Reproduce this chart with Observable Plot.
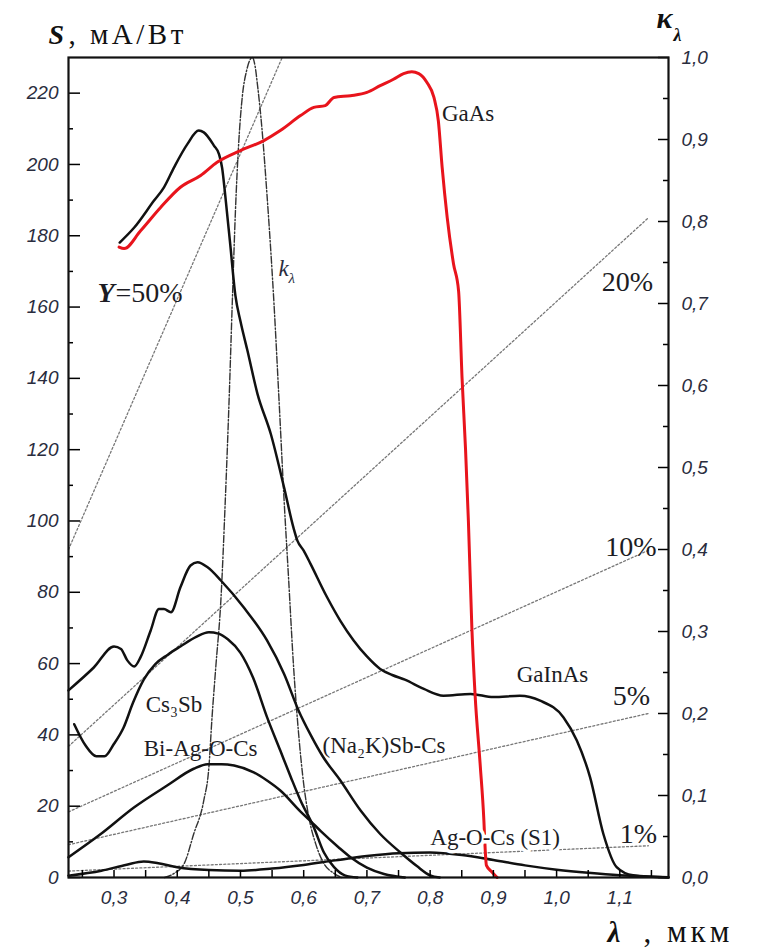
<!DOCTYPE html>
<html><head><meta charset="utf-8">
<script src="https://cdn.jsdelivr.net/npm/d3@7"></script>
<script src="https://cdn.jsdelivr.net/npm/@observablehq/plot@0.6"></script>
<style>body{margin:0;background:#fff}</style>
</head><body><div id="chart"></div>
<script>
// ---- axis ticks / labels ----
const lambdaMajor = [0.3, 0.4, 0.5, 0.6, 0.7, 0.8, 0.9, 1.0, 1.1];
const lambdaMinor = [0.25, 0.3, 0.35, 0.4, 0.45, 0.5, 0.55, 0.6, 0.65, 0.7, 0.75, 0.8, 0.85, 0.9, 0.95, 1.0, 1.05, 1.1, 1.15];
const sMajor = [0, 20, 40, 60, 80, 100, 120, 140, 160, 180, 200, 220];
const sMinor = [10, 30, 50, 70, 90, 110, 130, 150, 170, 190, 210];
const kMajor = [0, 0.1, 0.2, 0.3, 0.4, 0.5, 0.6, 0.7, 0.8, 0.9, 1.0];
const kMinor = [0.05, 0.15, 0.25, 0.35, 0.45, 0.55, 0.65, 0.75, 0.85, 0.95];
const S_MAX = 230;          // S value where k_lambda = 1.0
const LAMBDA_DOMAIN = [0.228, 1.177];

// ---- series: [lambda (um), S (mA/W)] ----
const gaAs = [[0.308,176.8],[0.316,176.4],[0.342,181.4],[0.374,188],[0.405,193.6],[0.437,196.9],[0.463,200.6],[0.50,203.9],[0.537,206.7],[0.563,209.5],[0.595,213.7],[0.616,216.0],[0.634,216.5],[0.648,218.8],[0.674,219.3],[0.70,220.2],[0.721,222.1],[0.742,223.9],[0.758,225.5],[0.771,226.0],[0.782,225.5],[0.795,223.0],[0.806,218.8],[0.813,212.2],[0.819,199.2],[0.827,185.1],[0.837,172.1],[0.845,164.5],[0.8505,140],[0.856,120],[0.8605,100],[0.866,70],[0.871,51.5],[0.879,32],[0.885,16],[0.887,8.1],[0.889,3.4],[0.898,1.5],[0.906,0]];
const gaInAs = [[0.309,178.1],[0.332,182.3],[0.363,189.8],[0.379,193.6],[0.395,199.2],[0.416,205.7],[0.434,209.5],[0.442,209.0],[0.458,205.3],[0.466,202.9],[0.471,199],[0.476,191.2],[0.484,177.2],[0.492,163.2],[0.50,156],[0.511,147.8],[0.527,135.6],[0.548,124.4],[0.569,109.4],[0.584,98],[0.590,94.5],[0.600,91.7],[0.611,87.9],[0.637,78.6],[0.658,72],[0.679,66.5],[0.70,62],[0.721,58.5],[0.74,56.8],[0.76,55.5],[0.79,52.9],[0.821,51.0],[0.864,51.5],[0.90,50.6],[0.942,51.0],[0.974,49.6],[1.011,44.9],[1.032,38.4],[1.053,28.1],[1.074,12.2],[1.095,2.9],[1.121,0.6],[1.177,0]];
const na2kSbCs = [[0.228,52.5],[0.268,58.9],[0.30,64.8],[0.311,64.1],[0.321,60.9],[0.332,59.2],[0.342,61.8],[0.358,69.3],[0.371,75.3],[0.379,75.3],[0.39,74.4],[0.405,81.4],[0.421,87.5],[0.432,88.4],[0.448,87.0],[0.469,83.3],[0.505,75.8],[0.542,66.5],[0.569,57.1],[0.592,46.8],[0.611,40],[0.63,34],[0.658,27.2],[0.69,18.8],[0.721,12.2],[0.753,7.0],[0.779,3.2],[0.80,0.6],[0.815,0]];
const cs3Sb = [[0.237,43],[0.255,37],[0.272,34],[0.285,34],[0.30,37.5],[0.315,42],[0.33,49],[0.347,55.5],[0.365,59.8],[0.385,62.5],[0.405,64.8],[0.43,67.5],[0.45,68.8],[0.465,68.4],[0.48,66.8],[0.50,63],[0.52,56],[0.542,45],[0.563,35.6],[0.58,28],[0.595,21.6],[0.616,14.1],[0.632,7],[0.648,2.9],[0.665,0.6],[0.685,0]];
const biAgOCs = [[0.228,5.7],[0.279,12.2],[0.332,19.7],[0.384,25.8],[0.426,30.5],[0.448,31.8],[0.47,31.8],[0.49,31.4],[0.521,29.5],[0.542,27.2],[0.563,24.4],[0.595,18.5],[0.611,15.8],[0.627,13.0],[0.655,8.5],[0.674,5.7],[0.70,2.8],[0.727,1.0],[0.76,0]];
const agOCs = [[0.228,0.5],[0.28,1.9],[0.32,3.6],[0.347,4.5],[0.37,4.0],[0.40,2.9],[0.45,2.1],[0.50,1.9],[0.55,2.5],[0.60,3.5],[0.65,4.8],[0.70,6.0],[0.75,6.8],[0.80,7.0],[0.85,6.3],[0.90,4.9],[0.95,3.4],[1.00,2.2],[1.05,1.3],[1.10,0.6],[1.15,0.2],[1.177,0.1]];
// k_lambda (right axis, 0..1)
const kLambda = [[0.380,0],[0.395,0.005],[0.411,0.017],[0.426,0.053],[0.442,0.094],[0.450,0.134],[0.455,0.195],[0.461,0.257],[0.469,0.338],[0.476,0.46],[0.482,0.582],[0.487,0.70],[0.492,0.812],[0.497,0.893],[0.503,0.953],[0.510,0.985],[0.519,1.0],[0.523,0.99],[0.527,0.966],[0.534,0.913],[0.542,0.832],[0.553,0.70],[0.561,0.582],[0.569,0.46],[0.576,0.366],[0.584,0.257],[0.592,0.175],[0.600,0.114],[0.608,0.074],[0.619,0.041],[0.632,0.017],[0.648,0.005],[0.66,0]];
// quantum-yield lines (end points)
const yield50 = [[0.228,92],[0.566,230]];
const yield20 = [[0.228,36.8],[1.145,185]];
const yield10 = [[0.228,18.4],[1.148,92]];
const yield5  = [[0.228,9.2],[1.145,46]];
const yield1  = [[0.228,1.8],[1.145,8.9]];

// ---- labels (anchor = baseline start, data units) ----
const curveLabels = [
  {text: "GaAs", x: 0.8186, y: 212.3},
  {text: "GaInAs", x: 0.937, y: 54.7},
  {text: "(Na\u2082K)Sb-Cs", x: 0.6297, y: 35.0},
  {text: "Cs\u2083Sb", x: 0.350, y: 46.3},
  {text: "Bi-Ag-O-Cs", x: 0.347, y: 34.2}
];
const s1Label = [{text: "Ag-O-Cs (S1)", x: 0.8003, y: 9.0}];
const yieldLabels = [
  {text: "20%", x: 1.0715, y: 164.6},
  {text: "10%", x: 1.0768, y: 90.3},
  {text: "5%", x: 1.089, y: 48.5},
  {text: "1%", x: 1.100, y: 9.8}
];
const y50Label = [{x: 0.274, y: 161.3}];
const kLabel = [{x: 0.560, y: 168.8}];

const fmt = d => d.toFixed(1).replace(".", ",");
const tickFont = {fontSize: 19, fontStyle: "italic", fontFamily: "Liberation Sans, Arial, sans-serif", fill: "#2a2d3e"};
const serif = "Liberation Serif, Times New Roman, serif";

const chart = Plot.plot({
  width: 759, height: 948,
  marginTop: 57, marginBottom: 71, marginLeft: 68, marginRight: 91,
  x: {domain: LAMBDA_DOMAIN},
  y: {domain: [0, S_MAX]},
  style: {background: "white", overflow: "visible"},
  marks: [
    // yield lines
    ...[yield50, yield20, yield10, yield5, yield1].map(l =>
      Plot.line(l, {stroke: "#777", strokeWidth: 1.3, strokeDasharray: "2,2.2"})),
    // k_lambda
    Plot.line(kLambda, {x: d => d[0], y: d => d[1] * S_MAX, stroke: "#333", strokeWidth: 1.4, strokeDasharray: "7,2,1.5,2", curve: "monotone-x"}),
    // photocathode curves
    ...[agOCs, biAgOCs, cs3Sb, na2kSbCs, gaInAs].map(c =>
      Plot.line(c, {stroke: "#111", strokeWidth: 2.5, curve: "monotone-x"})),
    Plot.line(gaAs, {stroke: "#e8141c", strokeWidth: 3, curve: "monotone-x"}),
    // axes
    Plot.axisX(lambdaMinor, {anchor: "bottom", tickSize: 7, insetBottom: 7, fill: "none", strokeWidth: 1.5}),
    Plot.axisX(lambdaMajor, {anchor: "bottom", tickSize: 0, tickPadding: 13, tickFormat: fmt, label: null, ...tickFont}),
    Plot.axisY(sMajor, {anchor: "left", tickSize: 12, insetLeft: 12, fill: "none", strokeWidth: 1.5}),
    Plot.axisY(sMinor, {anchor: "left", tickSize: 5, insetLeft: 5, fill: "none", strokeWidth: 1.5}),
    Plot.axisY(sMajor, {anchor: "left", tickSize: 0, tickPadding: 10, label: null, ...tickFont}),
    Plot.axisY(kMajor.map(k => k * S_MAX), {anchor: "right", tickSize: 11, insetRight: 11, fill: "none", strokeWidth: 1.5}),
    Plot.axisY(kMinor.map(k => k * S_MAX), {anchor: "right", tickSize: 6, insetRight: 6, fill: "none", strokeWidth: 1.5}),
    Plot.axisY(kMajor.map(k => k * S_MAX), {anchor: "right", tickSize: 0, tickPadding: 13, tickFormat: d => fmt(d / S_MAX), label: null, ...tickFont}),
    Plot.frame({stroke: "#111", strokeWidth: 2.2}),
    // labels
    Plot.text(curveLabels, {x: "x", y: "y", text: "text", textAnchor: "start", lineAnchor: "bottom", fontSize: 23, fontFamily: serif, fill: "#1c1c24"}),
    Plot.text(s1Label, {x: "x", y: "y", text: "text", textAnchor: "start", lineAnchor: "bottom", fontSize: 23, fontFamily: serif, fill: "#1c1c24", stroke: "white", strokeWidth: 7}),
    Plot.text(yieldLabels, {x: "x", y: "y", text: "text", textAnchor: "start", lineAnchor: "bottom", fontSize: 28, fontFamily: serif, fill: "#1c1c24"}),
    Plot.text(y50Label, {x: "x", y: "y", text: () => "Y", textAnchor: "start", lineAnchor: "bottom", fontSize: 28, fontWeight: "bold", fontStyle: "italic", fontFamily: serif, fill: "#1c1c24"}),
    Plot.text(y50Label, {x: "x", y: "y", text: () => "=50%", dx: 18, textAnchor: "start", lineAnchor: "bottom", fontSize: 28, fontFamily: serif, fill: "#1c1c24"}),
    Plot.text(kLabel, {x: "x", y: "y", text: () => "k", textAnchor: "start", lineAnchor: "bottom", fontSize: 23, fontStyle: "italic", fontFamily: serif, fill: "#2a2d3e"}),
    Plot.text(kLabel, {x: "x", y: "y", text: () => "λ", dx: 10, dy: 7, textAnchor: "start", lineAnchor: "bottom", fontSize: 15, fontStyle: "italic", fontFamily: serif, fill: "#2a2d3e"}),
    // axis titles
    Plot.text(["S"], {frameAnchor: "top-left", dx: -20, dy: -14, textAnchor: "start", lineAnchor: "bottom", fontSize: 28, fontWeight: "bold", fontStyle: "italic", fontFamily: serif, fill: "#111"}),
    Plot.text([", мА/Вт"], {frameAnchor: "top-left", dx: 0, dy: -14, textAnchor: "start", lineAnchor: "bottom", fontSize: 29, fontFamily: serif, fill: "#111"}),
    Plot.text(["κ"], {frameAnchor: "top-right", dx: -12, dy: -30, textAnchor: "start", lineAnchor: "bottom", fontSize: 30, fontWeight: "bold", fontStyle: "italic", fontFamily: serif, fill: "#111"}),
    Plot.text(["λ"], {frameAnchor: "top-right", dx: 5, dy: -17, textAnchor: "start", lineAnchor: "bottom", fontSize: 18, fontWeight: "bold", fontStyle: "italic", fontFamily: serif, fill: "#111"}),
    Plot.text(["λ"], {frameAnchor: "bottom-right", dx: -61, dy: 64, textAnchor: "start", lineAnchor: "bottom", fontSize: 29, fontWeight: "bold", fontStyle: "italic", fontFamily: serif, fill: "#111"}),
    Plot.text([", мкм"], {frameAnchor: "bottom-right", dx: -25, dy: 64, textAnchor: "start", lineAnchor: "bottom", fontSize: 31, fontFamily: serif, fill: "#111"})
  ]
});
// widen the Cyrillic unit titles to the reference's letter spacing
d3.select(chart).selectAll("text").each(function() {
  const t = this.textContent;
  if (t === ", мА/Вт") this.setAttribute("letter-spacing", "3.5");
  if (t === ", мкм") this.setAttribute("letter-spacing", "4");
});
document.getElementById("chart").appendChild(chart);
</script>
</body></html>
